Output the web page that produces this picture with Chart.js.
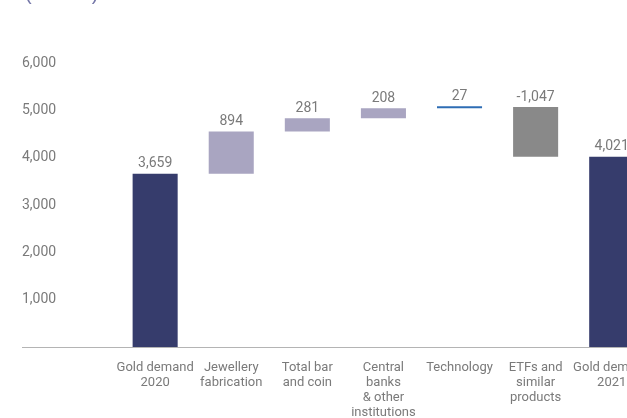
<!DOCTYPE html>
<html>
<head>
<meta charset="utf-8">
<style>
  html, body { margin: 0; padding: 0; overflow: hidden; background: #fff; }
  canvas { display: block; }
</style>
</head>
<body>
<canvas id="chart" width="664" height="418"></canvas>
<script src="https://cdn.jsdelivr.net/npm/chart.js@4/dist/chart.umd.min.js"></script>
<script>
// data (tonnes)
const categories = [
  '',
  ['Gold demand', '2020'],
  ['Jewellery', 'fabrication'],
  ['Total bar', 'and coin'],
  ['Central', 'banks', '& other', 'institutions'],
  ['Technology'],
  ['ETFs and', 'similar', 'products'],
  ['Gold demand', '2021']
];
const changes = [null, 3659, 894, 281, 208, 27, -1047, 4021];
const isTotal = [false, true, false, false, false, false, false, true];
const yTickValues = [0, 1000, 2000, 3000, 4000, 5000, 6000];

const barColors = ['rgba(0,0,0,0)', '#363c6c', '#a9a5c1', '#a9a5c1', '#a9a5c1', '#2e6db4', '#898989', '#363c6c'];
const FONT = "Roboto, 'Liberation Sans', sans-serif";
const TEXT = '#7a7a7a';

// floating bars for the waterfall
let running = 0;
const ranges = changes.map((v, i) => {
  if (v === null) return null;
  if (isTotal[i]) { running = v; return [0, v]; }
  const r = [running, running + v];
  running += v;
  return r;
});

const fmt = v => v.toLocaleString('en-US');

const extras = {
  id: 'extras',
  afterDatasetsDraw(chart) {
    const ctx = chart.ctx;
    const area = chart.chartArea;
    const yScale = chart.scales.y;
    const y0 = yScale.getPixelForValue(0);

    ctx.save();
    // baseline, runs under the y labels
    ctx.strokeStyle = '#b4b4b4';
    ctx.lineWidth = 1;
    ctx.beginPath();
    ctx.moveTo(area.left - 19, Math.round(y0) + 0.5);
    ctx.lineTo(chart.width, Math.round(y0) + 0.5);
    ctx.stroke();

    // y tick labels sit inside the plot, left of the first (empty) slot
    ctx.fillStyle = TEXT;
    ctx.font = '14px ' + FONT;
    ctx.textAlign = 'left';
    ctx.textBaseline = 'middle';
    yScale.ticks.forEach(t => {
      if (t.value === 0) return;
      ctx.fillText(fmt(t.value), area.left - 19, yScale.getPixelForValue(t.value));
    });

    // value labels
    ctx.textAlign = 'center';
    ctx.textBaseline = 'bottom';
    chart.getDatasetMeta(0).data.forEach((bar, i) => {
      if (changes[i] === null) return;
      const top = Math.min(bar.y, bar.base);
      ctx.fillText(fmt(changes[i]), bar.x, top - 3);
    });

    // unit line, mostly cut off at the top
    ctx.fillStyle = '#7577a8';
    ctx.font = "20px 'Liberation Sans', sans-serif";
    ctx.textAlign = 'left';
    ctx.textBaseline = 'alphabetic';
    ctx.fillText('(tonnes)', 25, 0);
    ctx.restore();
  }
};

new Chart(document.getElementById('chart'), {
  type: 'bar',
  data: {
    labels: categories,
    datasets: [{
      data: ranges,
      backgroundColor: barColors,
      borderWidth: 0,
      minBarLength: 2,
      categoryPercentage: 1,
      barPercentage: 0.592
    }]
  },
  options: {
    responsive: false,
    animation: false,
    layout: { padding: { top: 63, left: 41, right: 11, bottom: 0 } },
    plugins: {
      legend: { display: false },
      tooltip: { enabled: false }
    },
    scales: {
      x: {
        grid: { display: false, drawTicks: false },
        border: { display: false },
        ticks: {
          color: TEXT,
          font: { family: FONT, size: 13, lineHeight: 1.15 },
          padding: 13,
          maxRotation: 0,
          autoSkip: false
        },
        afterFit(scale) { scale.height = 71; }
      },
      y: {
        min: 0,
        max: 6000,
        grid: { display: false, drawTicks: false },
        border: { display: false },
        afterBuildTicks(scale) { scale.ticks = yTickValues.map(v => ({ value: v })); },
        ticks: { display: false }
      }
    }
  },
  plugins: [extras]
});
</script>
</body>
</html>
